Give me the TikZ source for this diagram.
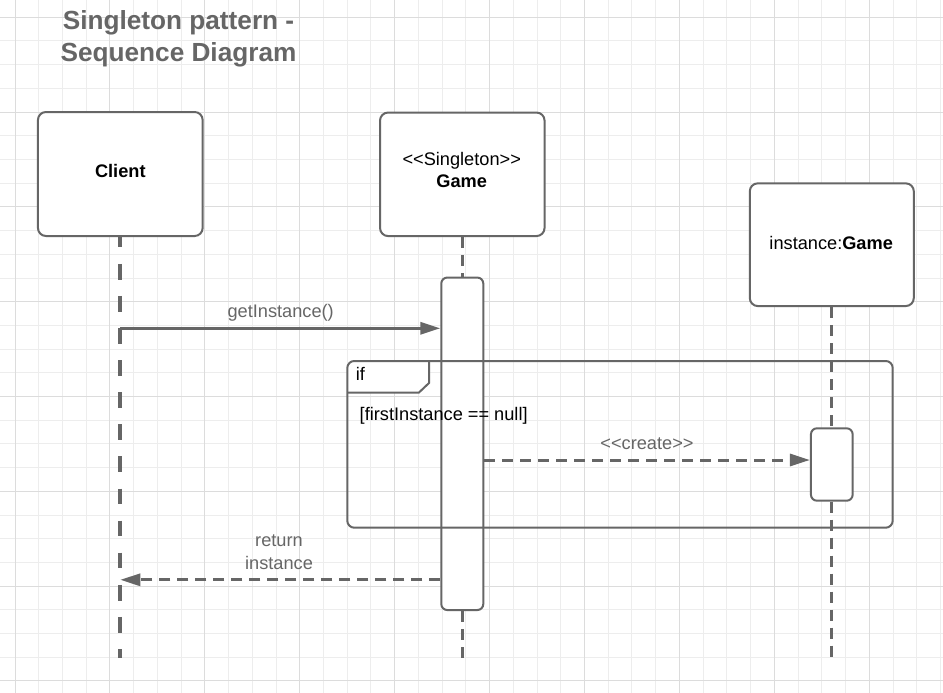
\documentclass[tikz,border=0pt]{standalone}
\usepackage{fontspec}
\setmainfont{Liberation Sans}
\usetikzlibrary{arrows.meta}
\definecolor{ln}{HTML}{666666}
\definecolor{gridminor}{HTML}{EDEDED}
\definecolor{gridmajor}{HTML}{DCDCDC}
\pgfdeclarelayer{gridlayer}
\pgfdeclarelayer{lifelayer}
\pgfsetlayers{gridlayer,lifelayer,main}
\begin{document}
\begin{tikzpicture}[x=1pt,y=-1pt,
  box/.style={draw=ln,line width=2pt,fill=white,rounded corners=8pt,inner sep=0pt},
  actbox/.style={draw=ln,line width=2pt,fill=white,rounded corners=6pt,inner sep=0pt},
  boxtext/.style={text=black,font=\fontsize{18.2}{22}\selectfont,inner sep=0pt,anchor=base},
  boldtext/.style={boxtext,font=\fontsize{18.2}{22}\selectfont\bfseries},
  msglbl/.style={text=ln,font=\fontsize{18.2}{22}\selectfont,inner sep=0pt,anchor=base},
  titletext/.style={text=ln,font=\fontsize{26.2}{32}\selectfont\bfseries,inner sep=0pt,anchor=base},
  msg/.style={draw=ln,line width=3pt,-{Triangle[length=20pt,width=12pt]}},
  reply/.style={msg,dash pattern=on 11pt off 7pt},
  life/.style={draw=ln,line width=3pt,dash pattern=on 11pt off 7pt},
  clientlife/.style={draw=ln,line width=3.8pt,dash pattern=on 15.7pt off 16.4pt,dash phase=5.3pt},
  minorline/.style={draw=gridminor,line width=1pt},
  majorline/.style={draw=gridmajor,line width=1pt},
  frameline/.style={draw=ln,line width=2pt}
]
\useasboundingbox (0,0) rectangle (943,693);
% background and grid
\begin{pgfonlayer}{gridlayer}
\fill[white] (0,0) rectangle (943,693);
\foreach \i in {0,...,39} {
  \pgfmathsetmacro\xx{15+23.73*\i}
  \draw[minorline] (\xx,0) -- (\xx,693);
}
\foreach \j in {0,...,28} {
  \pgfmathsetmacro\yy{17.3+23.7*\j}
  \draw[minorline] (0,\yy) -- (943,\yy);
}
\foreach \i in {0,4,...,36} {
  \pgfmathsetmacro\xx{15+23.73*\i}
  \draw[majorline] (\xx,0) -- (\xx,693);
}
\foreach \j in {0,4,...,28} {
  \pgfmathsetmacro\yy{17.3+23.7*\j}
  \draw[majorline] (0,\yy) -- (943,\yy);
}
\end{pgfonlayer}

% title
\node[titletext] (title1) at (178.5,29.3) {Singleton pattern -};
\node[titletext] (title2) at (178.5,61.7) {Sequence Diagram};

% participants and activations
\node[box,minimum width=164.7pt,minimum height=124pt] (client) at (120.3,174) {};
\node[box,minimum width=164.5pt,minimum height=123.5pt] (game) at (462.3,174.3) {};
\node[box,minimum width=164pt,minimum height=122.7pt] (inst) at (831.8,244.7) {};
\node[actbox,minimum width=42pt,minimum height=332.5pt] (act1) at (462.3,443.8) {};
\node[actbox,minimum width=41.7pt,minimum height=72.4pt] (act2) at (831.8,464.5) {};

% box texts
\node[boldtext] (clientlbl) at (120.3,177.3) {Client};
\node[boxtext] (gamestereo) at (461.7,165.3) {<{}<Singleton>{}>};
\node[boldtext] (gamelbl) at (461.7,187.3) {Game};
\node[boxtext] (instlbl) at (831.2,249) {instance:\textbf{Game}};

% lifelines (behind the boxes)
\coordinate (clientend) at (120.3,658);
\coordinate (gameend) at (462.3,658);
\coordinate (instend) at (831.8,658);
\begin{pgfonlayer}{lifelayer}
\draw[clientlife] (client.south) -- (clientend);
\draw[life] (game.south) -- (act1.north);
\draw[life] (act1.south) -- (gameend);
\draw[life] (inst.south) -- (act2.north);
\draw[life] (act2.south) -- (instend);
\end{pgfonlayer}

% combined fragment
\fill[white] (348,362) -- (429,362) -- (429,383) -- (419,392.5) -- (348,392.5) -- cycle;
\draw[frameline,rounded corners=7pt] (347.3,361) rectangle (892.7,527.7);
\draw[frameline] (347.3,392.5) -- (419,392.5) -- (429,383) -- (429,361);
\node[boxtext,anchor=base west] (iflbl) at (355.7,380) {if};
\node[boxtext,anchor=base west] (guard) at (359.5,420.8) {[firstInstance == null]};

% messages
\coordinate (ym1) at (0,328.3);
\coordinate (ym2) at (0,460);
\coordinate (ym3) at (0,579.8);
\draw[msg] (client.south |- ym1) -- (act1.west |- ym1);
\node[msglbl] (m1lbl) at (280.7,317.3) {getInstance()};
\draw[reply] (act1.east |- ym2) -- (act2.west |- ym2);
\node[msglbl] (m2lbl) at (647,449) {<{}<create>{}>};
\draw[reply] (act1.west |- ym3) -- (client.south |- ym3);
\node[msglbl] (m3lbla) at (279,546.7) {return};
\node[msglbl] (m3lblb) at (279,569) {instance};
\end{tikzpicture}
\end{document}
